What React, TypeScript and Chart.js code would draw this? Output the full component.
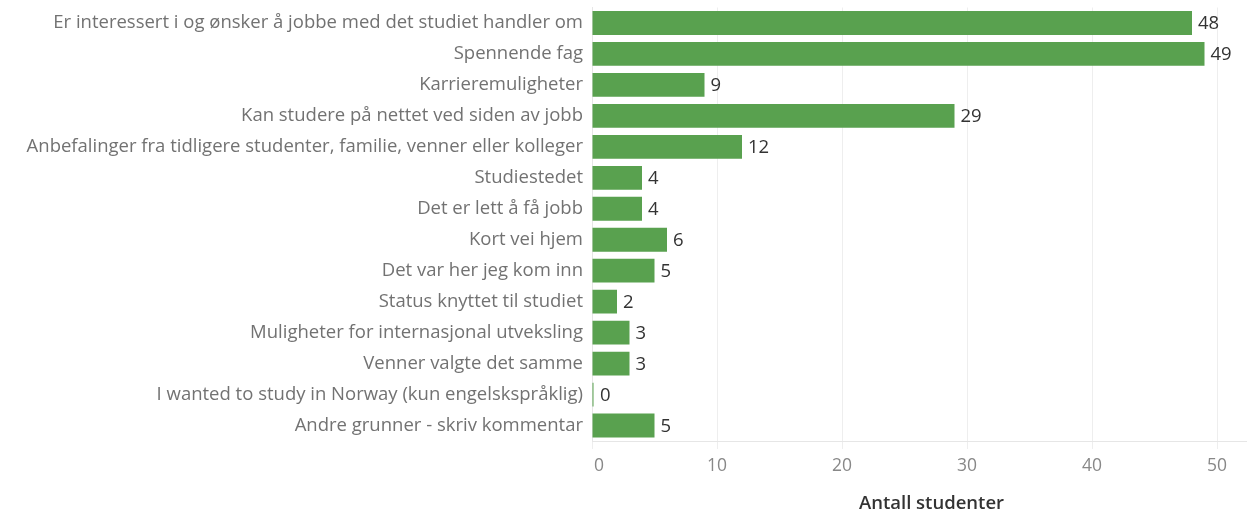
import React, { useEffect, useRef } from "react";
import { Chart, registerables } from "chart.js";

Chart.register(...registerables);

const categories = [
  "Er interessert i og ønsker å jobbe med det studiet handler om",
  "Spennende fag",
  "Karrieremuligheter",
  "Kan studere på nettet ved siden av jobb",
  "Anbefalinger fra tidligere studenter, familie, venner eller kolleger",
  "Studiestedet",
  "Det er lett å få jobb",
  "Kort vei hjem",
  "Det var her jeg kom inn",
  "Status knyttet til studiet",
  "Muligheter for internasjonal utveksling",
  "Venner valgte det samme",
  "I wanted to study in Norway (kun engelskspråklig)",
  "Andre grunner - skriv kommentar",
];

const counts = [48, 49, 9, 29, 12, 4, 4, 6, 5, 2, 3, 3, 0, 5];

const xTicks = [0, 10, 20, 30, 40, 50];
const axisTitle = "Antall studenter";

const FONT = "'Open Sans', 'Noto Sans', sans-serif";

const valueLabels = {
  id: "valueLabels",
  afterDatasetsDraw(chart: any) {
    const ctx = chart.ctx;
    const meta = chart.getDatasetMeta(0);
    ctx.save();
    ctx.font = `18.5px ${FONT}`;
    ctx.fillStyle = "#333333";
    ctx.textAlign = "left";
    ctx.textBaseline = "middle";
    meta.data.forEach((bar: any, i: number) => {
      const v = chart.data.datasets[0].data[i];
      const endX = Math.max(bar.x, bar.base + 1.5);
      ctx.fillText(String(v), endX + 6, bar.y + 1);
    });
    ctx.restore();
  },
};

const xAxisText = {
  id: "xAxisText",
  afterDraw(chart: any) {
    const ctx = chart.ctx;
    const area = chart.chartArea;
    const xs = chart.scales.x;
    ctx.save();
    // tick labels
    ctx.font = `17.5px ${FONT}`;
    ctx.fillStyle = "#888888";
    ctx.textBaseline = "middle";
    xTicks.forEach((v, i) => {
      const px = xs.getPixelForValue(v);
      if (i === 0) {
        ctx.textAlign = "left";
        ctx.fillText(String(v), px + 2, area.bottom + 25);
      } else {
        ctx.textAlign = "center";
        ctx.fillText(String(v), px, area.bottom + 25);
      }
    });
    // axis title
    ctx.font = `600 18.5px ${FONT}`;
    ctx.fillStyle = "#333333";
    ctx.textAlign = "center";
    ctx.fillText(axisTitle, (area.left + area.right) / 2 + 12, chart.height - 9.5);
    ctx.restore();
  },
};

export default function App() {
  const ref = useRef<HTMLCanvasElement | null>(null);

  useEffect(() => {
    if (!ref.current) return;
    const chart = new Chart(ref.current, {
      type: "bar",
      data: {
        labels: categories,
        datasets: [
          {
            data: counts,
            backgroundColor: "#59a14f",
            barPercentage: 0.77,
            categoryPercentage: 1,
            minBarLength: 1.5,
          },
        ],
      },
      options: {
        indexAxis: "y",
        animation: false,
        responsive: true,
        maintainAspectRatio: false,
        layout: { padding: { top: 0, right: 0, bottom: 0, left: 0 } },
        plugins: {
          legend: { display: false },
          tooltip: { enabled: false },
        },
        scales: {
          x: {
            type: "linear",
            min: 0,
            max: 52.4,
            afterBuildTicks: (scale: any) => {
              scale.ticks = xTicks.map((v) => ({ value: v }));
            },
            afterFit: (scale: any) => {
              scale.height = 72;
              scale.paddingLeft = 0;
              scale.paddingRight = 0;
            },
            grid: {
              color: "#eeeeee",
              lineWidth: 1,
              drawTicks: true,
              tickLength: 8,
              tickColor: "#eeeeee",
            },
            border: { display: true, color: "#e6e6e6" },
            ticks: { display: false },
            title: { display: false },
          },
          y: {
            afterFit: (scale: any) => {
              scale.width = 592;
              scale.paddingTop = 7.5;
              scale.paddingBottom = 0;
            },
            grid: { display: false, drawTicks: false },
            border: { display: true, color: "#e6e6e6" },
            ticks: {
              color: "#727272",
              font: { family: FONT, size: 18.5 },
              padding: 9,
              autoSkip: false,
            },
          },
        },
      },
      plugins: [valueLabels, xAxisText],
    });
    return () => chart.destroy();
  }, []);

  return (
    <div style={{ position: "fixed", left: 0, top: 0, width: 1247, height: 513, background: "#ffffff" }}>
      <canvas ref={ref} />
    </div>
  );
}
